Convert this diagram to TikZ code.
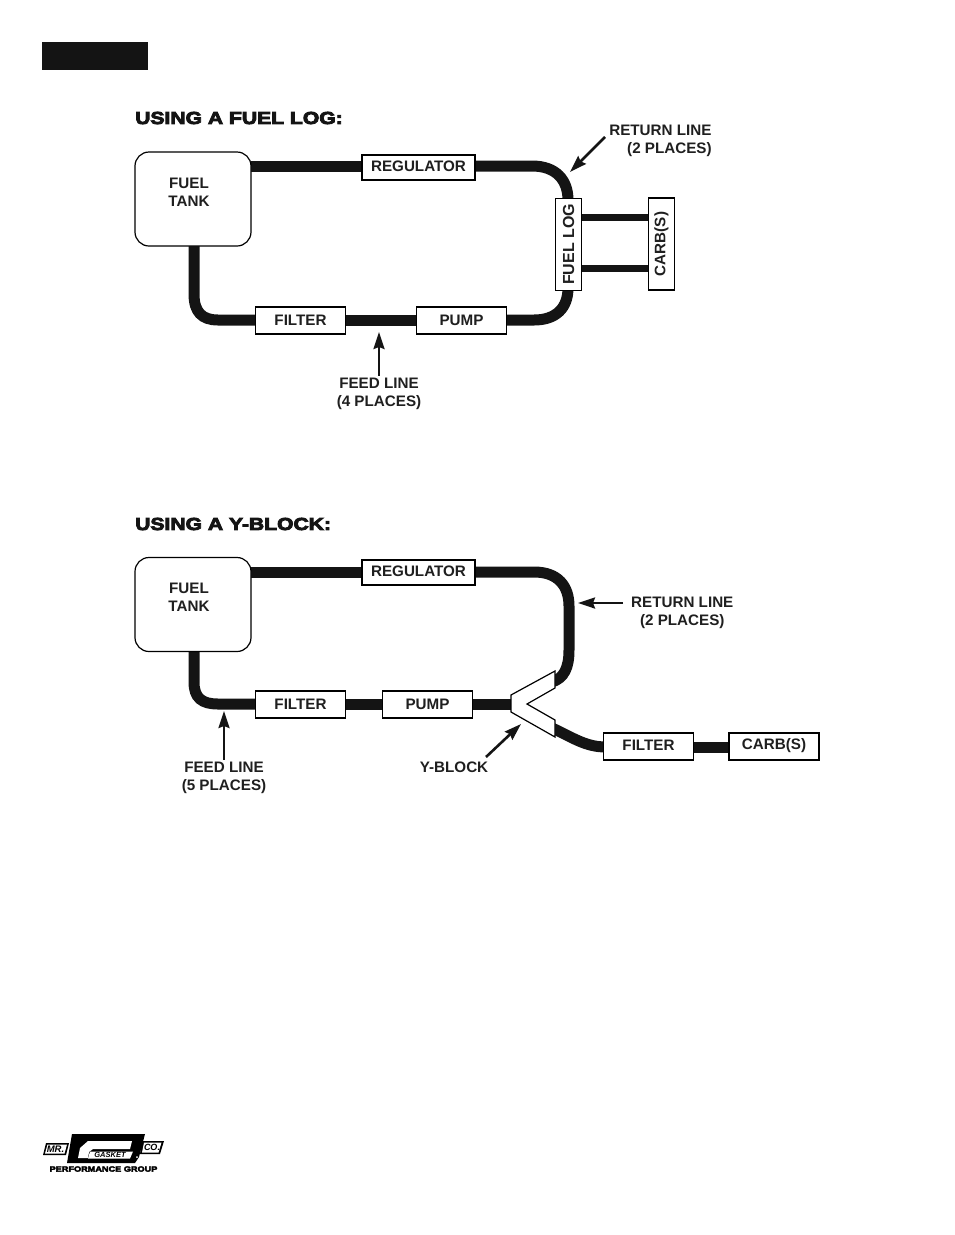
\documentclass[tikz,border=0pt]{standalone}
\usepackage{fontspec}
\setmainfont{Liberation Sans}
\usetikzlibrary{arrows.meta}
\newfontfamily\headfont[FakeStretch=1.22,FakeBold=5]{Liberation Sans Bold}
\tikzset{
  box/.style={draw=black,line width=1.4pt,fill=white,inner sep=0pt,font=\fontsize{15.2}{18}\selectfont\bfseries,text=black!88},
  tank/.style={box,line width=1.2pt,rounded corners=14pt,minimum width=116pt,minimum height=94pt},
  wbox/.style={box,minimum width=90pt,minimum height=27pt},
  regbox/.style={box,minimum width=113pt,minimum height=25pt},
  vbox/.style={box,minimum width=92pt,minimum height=26pt,rotate=90},
  lbl/.style={font=\fontsize{15.2}{18}\selectfont\bfseries,text=black!88,align=center,inner sep=0pt},
  head/.style={font=\fontsize{17.3}{20}\headfont,anchor=west,inner sep=0pt,text=black!92},
  pipe/.style={line width=11pt,black!92,line cap=butt},
  thinpipe/.style={line width=7pt,black!92},
  callout/.style={line width=2.6pt,black!92,-{Stealth[length=17pt,width=11pt,inset=2pt]}},
}
\begin{document}
\begin{tikzpicture}[x=1pt,y=-1pt]
\useasboundingbox (0,0) rectangle (954,1235);
\fill[black!92] (42,42) rectangle (148,70);

% ---- fuel log
\node[head] (h1) at (135,118) {USING A FUEL LOG:};
\draw[pipe] (251,166) -- (362,166);
\draw[pipe] (475,166) -- (532,166) .. controls (556,166) and (568,180) .. (568,200);
\draw[pipe] (194,244) -- (194,294) .. controls (194,312) and (202,320) .. (218,320) -- (258,320);
\draw[pipe] (345,320) -- (416,320);
\draw[pipe] (506,320) -- (534,320) .. controls (556,320) and (568,308) .. (568,288);
\draw[thinpipe] (582,217) -- (649,217);
\draw[thinpipe] (582,268) -- (649,268);
\node[tank] (tank1) at (193,199) {};
\node[lbl] (tanklbl1) at (189,192.5) {FUEL\\TANK};
\node[regbox] (reg1) at (418.5,167.5) {};
\node[lbl] (reglbl1) at (418.5,166.5) {REGULATOR};
\node[wbox] (filter1) at (300.5,320.5) {FILTER};
\node[wbox] (pump1) at (461.5,320.5) {PUMP};
\node[vbox,font=\fontsize{16}{18}\selectfont\bfseries] (log1) at (568.5,244.5) {FUEL LOG};
\node[vbox] (carb1) at (661.5,244) {CARB(S)};
\node[lbl,anchor=north west] (ret1) at (609,125) {RETURN LINE\\\hspace*{18pt}(2 PLACES)};
\node[lbl] (feed1) at (379,393.5) {FEED LINE\\(4 PLACES)};
\coordinate (r1s) at (605,137);
\coordinate (r1e) at (570,172);
\coordinate (f1e) at (379,332);
\draw[callout] (r1s) -- (r1e);
\draw[callout] (feed1.north) ++(0,-2) -- (f1e);

% ---- y block
\node[head] (h2) at (135,524) {USING A Y-BLOCK:};
\draw[pipe] (251,572) -- (362,572);
\draw[pipe] (475,572) -- (534,572) .. controls (558,572) and (569,586) .. (569,606) -- (569,650) .. controls (569,668) and (564,678) .. (552,682);
\draw[pipe] (194,650) -- (194,682) .. controls (194,698) and (202,704) .. (218,704) -- (258,704);
\draw[pipe] (345,704) -- (383,704);
\draw[pipe] (472,704) -- (514,704);
\draw[pipe] (552,728) .. controls (572,737) and (585,747) .. (606,747);
\draw[pipe] (693,747) -- (729,747);
\node[tank] (tank2) at (193,604.5) {};
\node[lbl] (tanklbl2) at (189,597.5) {FUEL\\TANK};
\node[regbox] (reg2) at (418.5,572.5) {};
\node[lbl] (reglbl2) at (418.5,571.5) {REGULATOR};
\node[wbox] (filter2) at (300.5,704.5) {FILTER};
\node[wbox] (pump2) at (427.5,704.5) {PUMP};
\node[wbox] (filter3) at (648.5,746.5) {};
\node[lbl] (filterlbl3) at (648.5,745.5) {FILTER};
\node[wbox] (carb2) at (774,746.5) {};
\node[lbl] (carblbl2) at (774,746) {CARB(S)};
\draw[draw=black,fill=white,line width=1.2pt,line join=miter]
  (511,695) -- (555,671) -- (555,688) -- (527,704) -- (555,720) -- (555,737) -- (511,712) -- cycle;
\node[lbl,anchor=north west] (ret2) at (631,597) {RETURN LINE\\\hspace*{0pt}(2 PLACES)};
\node[lbl] (feed2) at (224,777.5) {FEED LINE\\(5 PLACES)};
\node[lbl] (yb) at (454,767) {Y-BLOCK};
\coordinate (r2s) at (623,603);
\coordinate (r2e) at (578,603);
\coordinate (f2e) at (224,711);
\coordinate (y2s) at (486,757);
\coordinate (y2e) at (521,724);
\draw[callout] (r2s) -- (r2e);
\draw[callout] (feed2.north) ++(0,-2) -- (f2e);
\draw[callout] (y2s) -- (y2e);

% ---- logo
\fill[black] (46,1143) -- (69,1143) -- (66,1155) -- (43,1155) -- cycle;
\fill[white] (47.5,1144.5) -- (67,1144.5) -- (64.5,1153.5) -- (45,1153.5) -- cycle;
\fill[black] (142,1141) -- (164,1141) -- (160,1154) -- (140,1154) -- cycle;
\fill[white] (144,1142.5) -- (161.5,1142.5) -- (158.5,1152.5) -- (142,1152.5) -- cycle;
\fill[black] (72,1134) -- (145,1134) -- (139,1157) -- (135,1163) -- (67,1163) -- cycle;
\fill[white] (80,1148) -- (88,1141) -- (132,1141) -- (130,1149) -- (93,1149) -- (89,1152) -- (88,1158) -- (78,1158) -- cycle;
\fill[white] (90,1151.5) -- (133,1151.5) -- (130,1158.5) -- (88,1158.5) -- cycle;
\fill[white] (137,1157) circle (1pt);
\node[font=\fontsize{9.5}{10}\selectfont\bfseries\itshape,inner sep=0pt] (mr) at (55.5,1149.5) {MR.};
\node[font=\fontsize{9}{10}\selectfont\bfseries\itshape,inner sep=0pt] (co) at (152,1147.5) {CO.};
\node[font=\fontsize{7.5}{8}\selectfont\bfseries\itshape,inner sep=0pt] (gk) at (110,1155) {GASKET};
\node[font=\fontsize{7.5}{8}\headfont,inner sep=0pt] (pg) at (103.5,1169) {PERFORMANCE GROUP};
\end{tikzpicture}
\end{document}
